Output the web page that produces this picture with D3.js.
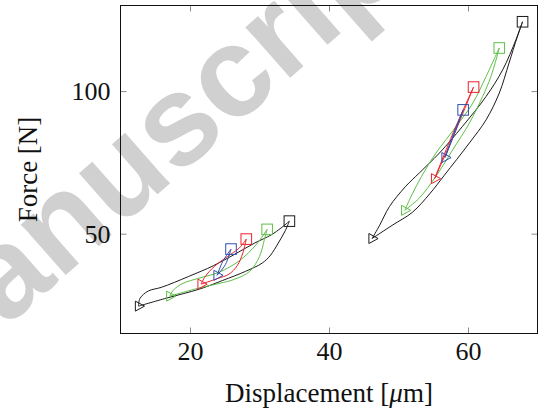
<!DOCTYPE html>
<html><head><meta charset="utf-8">
<script src="https://cdn.jsdelivr.net/npm/d3@7/dist/d3.min.js"></script>
<style>body{margin:0;background:#fff}</style>
</head><body>
<svg id="c" width="540" height="412"></svg>
<script>
// Axis setup
const xDomain = [10, 70];
const yDomain = [15, 130];
const xTicks = [20, 40, 60];
const yTicks = [50, 100];
const xLabel = "Displacement";
const yLabel = "Force [N]";
const watermark = "manuscript";

// Series colours
const seriesColors = {black: "#1a1a1a", green: "#5cbf45", red: "#f0202a", blue: "#2f4fae"};

// Loading branches (triangle -> square), [displacement µm, force N]
const blackLeftLoad   = [[12.6,24.6],[16.6,27.4],[21.4,30.6],[24.7,33.6],[28.0,36.8],[30.4,39.7],[31.6,42.5],[32.7,46.7],[33.7,51.0],[34.3,54.4]];
const blackLeftUnload = [[34.3,54.4],[33.1,52.0],[31.7,49.6],[29.3,46.7],[26.3,42.6],[23.4,38.8],[19.8,35.0],[15.9,31.2],[14.0,29.9],[12.8,27.3],[12.6,24.6]];
const greenLeftLoad   = [[17.1,28.1],[21.4,31.0],[24.3,32.6],[26.4,34.0],[28.6,36.8],[30.0,42.0],[30.7,47.9],[31.1,51.5]];
const greenLeftUnload = [[31.1,51.5],[29.5,46.1],[27.1,40.5],[24.2,36.5],[21.3,34.4],[19.0,32.6],[17.6,30.2],[17.1,28.1]];
const redLeftLoad     = [[21.6,32.3],[24.0,34.3],[25.6,35.8],[26.8,38.8],[27.6,43.2],[28.1,48.1]];
const redLeftUnload   = [[28.1,48.1],[27.1,45.0],[25.4,42.0],[23.5,38.5],[22.2,35.0],[21.6,32.3]];
const blueLeftLoad    = [[23.9,35.4],[25.1,39.2],[25.9,44.6]];
const blueLeftUnload  = [[25.9,44.6],[24.7,40.2],[23.9,35.4]];

const blackRightLoad   = [[46.2,48.3],[49.2,53.1],[52.0,57.5],[54.5,64.0],[56.6,70.5],[60.2,81.8],[62.6,89.9],[64.5,99.3],[65.9,109.8],[67.1,119.1],[67.85,124.3]];
const blackRightUnload = [[67.85,124.3],[66.9,118.0],[65.0,107.5],[62.6,98.1],[59.2,87.6],[55.9,78.3],[53.0,71.3],[51.0,66.5],[48.7,59.5],[47.3,53.0],[46.2,48.3]];
const greenRightLoad   = [[50.9,58.2],[53.0,62.5],[55.5,70.5],[57.8,79.4],[60.2,88.8],[62.1,98.1],[63.3,105.1],[64.5,115.1]];
const greenRightUnload = [[64.5,115.1],[62.6,105.1],[60.7,95.8],[58.3,87.6],[55.4,78.3],[53.3,70.0],[52.0,64.0],[50.9,58.2]];
const redRightLoad     = [[55.2,69.3],[58.05,85.1],[60.8,101.4]];
const redRightUnload   = [[60.8,101.4],[57.9,85.6],[55.2,69.3]];
const blueRightLoad    = [[56.7,76.7],[58.05,85.0],[59.3,93.4]];
const blueRightUnload  = [[59.3,93.4],[57.95,85.2],[56.7,76.7]];

const loops = [
  {color:"black", load:blackLeftLoad, unload:blackLeftUnload},
  {color:"black", load:blackRightLoad, unload:blackRightUnload},
  {color:"green", load:greenLeftLoad, unload:greenLeftUnload},
  {color:"green", load:greenRightLoad, unload:greenRightUnload},
  {color:"red", load:redLeftLoad, unload:redLeftUnload},
  {color:"red", load:redRightLoad, unload:redRightUnload},
  {color:"blue", load:blueLeftLoad, unload:blueLeftUnload},
  {color:"blue", load:blueRightLoad, unload:blueRightUnload}
];

const svg = d3.select("#c");
const L = 120.5, R = 537.5, T = 5.5, B = 333.5;
const x = d3.scaleLinear(xDomain, [L, R]);
const y = d3.scaleLinear(yDomain, [B, T]);
const serif = "'Liberation Serif','DejaVu Serif',serif";

// watermark behind
svg.append("text")
  .attr("transform", "translate(-80,403) rotate(-41.3)")
  .attr("font-family", "'Liberation Sans',Arial,sans-serif")
  .attr("font-weight", "bold")
  .attr("font-size", 128)
  .attr("fill", "#d0d0d0")
  .text(watermark);

// axes with inward ticks
function styleAxis(g, labels) {
  g.select(".domain").remove();
  g.selectAll(".tick line").attr("stroke", "#8c8c8c").attr("stroke-width", 1);
  g.selectAll(".tick text").attr("font-family", serif).attr("font-size", 26).attr("fill", "#111");
  if (!labels) g.selectAll(".tick text").remove();
}
svg.append("g").attr("transform", `translate(0,${B})`)
  .call(d3.axisBottom(x).tickValues(xTicks).tickSize(-6).tickPadding(8).tickFormat(d3.format("d")))
  .call(g => styleAxis(g, true));
svg.append("g").attr("transform", `translate(0,${T})`)
  .call(d3.axisTop(x).tickValues(xTicks).tickSize(-6))
  .call(g => styleAxis(g, false));
svg.append("g").attr("transform", `translate(${L},0)`)
  .call(d3.axisLeft(y).tickValues(yTicks).tickSize(-6).tickPadding(10).tickFormat(d3.format("d")))
  .call(g => styleAxis(g, true));
svg.append("g").attr("transform", `translate(${R},0)`)
  .call(d3.axisRight(y).tickValues(yTicks).tickSize(-6))
  .call(g => styleAxis(g, false));

svg.append("rect").attr("x", L).attr("y", T).attr("width", R - L).attr("height", B - T)
  .attr("fill", "none").attr("stroke", "#111").attr("stroke-width", 1);

// curves
const line = d3.line().x(d => x(d[0])).y(d => y(d[1])).curve(d3.curveCatmullRom.alpha(0.5));
const plot = svg.append("g");
loops.forEach(lp => {
  [lp.load, lp.unload].forEach(br => {
    plot.append("path").attr("d", line(br)).attr("fill", "none")
      .attr("stroke", seriesColors[lp.color]).attr("stroke-width", 1);
  });
});
// markers
loops.forEach(lp => {
  const c = seriesColors[lp.color];
  const t = lp.load[0], s = lp.load[lp.load.length - 1];
  const tx = x(t[0]), ty = y(t[1]);
  plot.append("path")
    .attr("d", `M${tx-3.2},${ty-5}L${tx+6},${ty}L${tx-3.2},${ty+5}Z`)
    .attr("fill", "none").attr("stroke", c).attr("stroke-width", 1);
  plot.append("rect").attr("x", x(s[0]) - 5.3).attr("y", y(s[1]) - 5.3)
    .attr("width", 10.6).attr("height", 10.6)
    .attr("fill", "none").attr("stroke", c).attr("stroke-width", 1);
});

// axis titles
const xt = svg.append("text").attr("x", (L + R) / 2).attr("y", 402)
  .attr("text-anchor", "middle").attr("font-family", serif).attr("font-size", 27).attr("fill", "#111");
xt.append("tspan").text(xLabel + " [");
xt.append("tspan").attr("font-style", "italic").text("μ");
xt.append("tspan").text("m]");

svg.append("text").attr("transform", `translate(37,${(T + B) / 2}) rotate(-90)`)
  .attr("text-anchor", "middle").attr("font-family", serif).attr("font-size", 27).attr("fill", "#111")
  .text(yLabel);
</script>
</body></html>
